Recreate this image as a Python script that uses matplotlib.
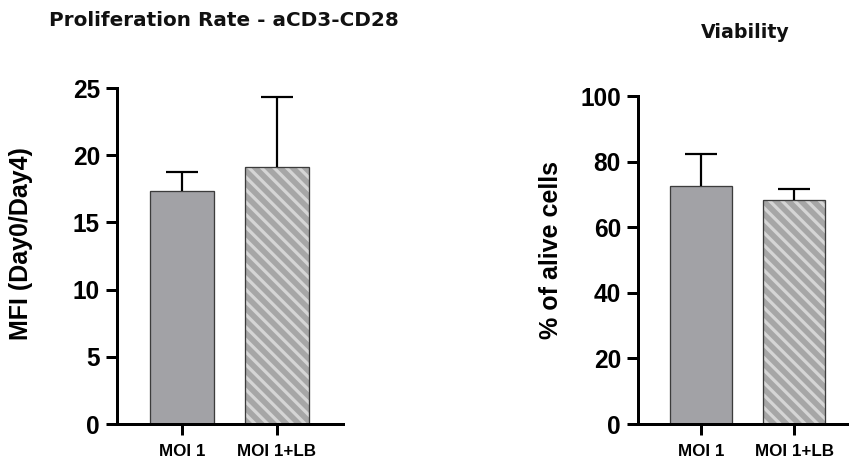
import matplotlib
matplotlib.use("Agg")
import matplotlib.pyplot as plt

# figure is laid out in pixels; dpi 75 makes the hatch spacing match
DPI = 75
W, H = 849, 464


def pt(px):
    # pixels -> points at this dpi
    return px * 72 / DPI


groups = ["MOI 1", "MOI 1+LB"]

prolif_mean = [17.35, 19.1]
prolif_err = [1.4, 5.2]
prolif_ticks = [0, 5, 10, 15, 20, 25]

viab_mean = [72.6, 68.3]
viab_err = [9.7, 3.4]
viab_ticks = [0, 20, 40, 60, 80, 100]

plt.rcParams['hatch.linewidth'] = pt(5.6)
AX_FONT = 'Liberation Sans'
TITLE_FONT = 'DejaVu Sans'


def draw_panel(ax, means, errs, ticks, ylabel):
    x = list(range(len(groups)))
    width = 0.67
    # solid bar and hatched bar
    ax.bar(x[0], means[0], width, color='#a2a2a6', linewidth=0, zorder=1)
    ax.bar(x[1], means[1], width, color='#d5d5d5', edgecolor='#a6a6a6',
           hatch='\\\\', linewidth=0, zorder=1)
    # outlines
    ax.bar(x, means, width, facecolor='none', edgecolor='#3c3c3c',
           linewidth=pt(1.3), zorder=1.5)
    # upper error bars only
    eb = ax.errorbar(x, means, yerr=[[0] * len(errs), errs], fmt='none',
                     ecolor='black', elinewidth=pt(2.2), capsize=pt(16),
                     capthick=pt(2.2), zorder=2)
    eb[1][0].set_visible(False)

    ax.set_xlim(-0.684, 1.695)
    ax.set_ylim(ticks[0], ticks[-1])
    ax.set_yticks(ticks)
    ax.set_xticks(x)
    ax.set_xticklabels(groups)

    for s in ['top', 'right']:
        ax.spines[s].set_visible(False)
    for s in ['left', 'bottom']:
        ax.spines[s].set_linewidth(pt(3))
        ax.spines[s].set_capstyle('projecting')

    ax.tick_params(axis='both', direction='out', length=pt(11), width=pt(3),
                   color='black')
    ax.tick_params(axis='y', pad=pt(6))
    ax.tick_params(axis='x', pad=pt(9))
    for lab in ax.get_yticklabels():
        lab.set_fontfamily(AX_FONT)
        lab.set_fontweight('bold')
        lab.set_fontsize(pt(24.5))
    for lab in ax.get_xticklabels():
        lab.set_fontfamily(AX_FONT)
        lab.set_fontweight('bold')
        lab.set_fontsize(pt(17))
    ax.set_ylabel(ylabel, fontfamily=AX_FONT, fontweight='bold',
                  fontsize=pt(25))


fig = plt.figure(figsize=(W / DPI, H / DPI), dpi=DPI)

ax1 = fig.add_axes([117 / W, 40 / H, 226 / W, 336 / H])
draw_panel(ax1, prolif_mean, prolif_err, prolif_ticks, 'MFI (Day0/Day4)')
ax1.yaxis.set_label_coords(-0.372, 0.537)

ax2 = fig.add_axes([638 / W, 40 / H, 220.6 / W, 328 / H])
draw_panel(ax2, viab_mean, viab_err, viab_ticks, '% of alive cells')
ax2.yaxis.set_label_coords(-0.34, 0.529)

fig.text(224 / W, 1 - 21 / H, 'Proliferation Rate - aCD3-CD28',
         ha='center', va='center', fontfamily=TITLE_FONT, fontweight='bold',
         fontsize=pt(20), color='#111111')
fig.text(745 / W, 1 - 32 / H, 'Viability', ha='center', va='center',
         fontfamily=TITLE_FONT, fontweight='bold', fontsize=pt(19),
         color='#111111')

fig.savefig('out.png', dpi=DPI)
